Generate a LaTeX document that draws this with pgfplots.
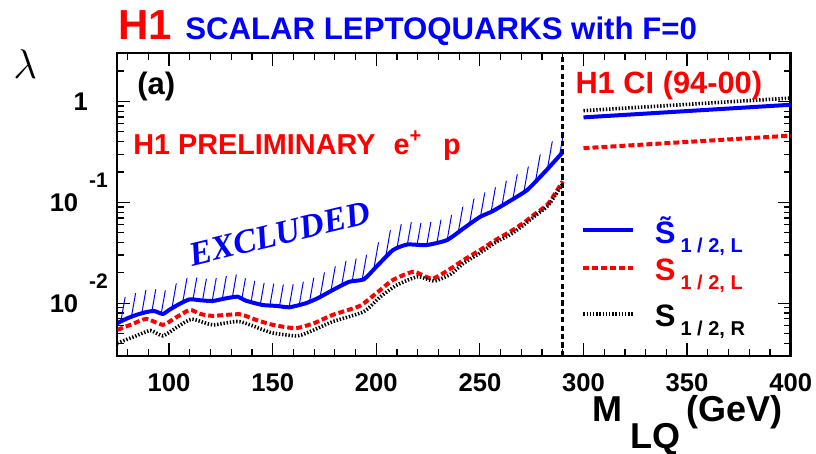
\documentclass[border=0pt]{standalone}
\usepackage{pgfplots}
\pgfplotsset{compat=1.18}
\usepackage{pgfplotstable}
\usepgfplotslibrary{fillbetween}
\usetikzlibrary{patterns.meta}
\usepackage{fontspec}
\setmainfont{Liberation Sans}
\newfontfamily\serifbi{Liberation Serif}

% S~_{1/2,L} (blue, solid)
\pgfplotstableread{
x y
75 0.00635
80 0.00711
85 0.00776
90 0.00826
93 0.00835
97 0.00783
100 0.00857
105 0.00984
110 0.01094
115 0.0107
121 0.01052
127 0.01114
133 0.01161
137 0.01061
145 0.00961
152 0.0094
158 0.00912
166 0.0100
172 0.01128
179 0.01352
187 0.01633
194 0.01726
200 0.02296
208 0.03357
215 0.0382
224 0.03767
234 0.04217
242 0.05495
250 0.07161
256 0.08147
265 0.1047
273 0.1334
282 0.207
290 0.314
}\blueLQ

% S_{1/2,L} (red, dashed)
\pgfplotstableread{
x y
75 0.00545
82 0.00618
89 0.0070
97 0.00611
103 0.00716
110 0.00859
115 0.00784
121 0.0075
134 0.00778
142 0.00684
150 0.00611
161 0.00566
170 0.00635
179 0.00767
192 0.0094
200 0.01256
208 0.01698
218 0.0205
227 0.0175
236 0.02213
242 0.02673
250 0.0336
258 0.04285
265 0.0517
271 0.0625
277 0.0778
283 0.0971
290 0.162
}\redLQ

% S_{1/2,R} (black, dotted)
\pgfplotstableread{
x y
75 0.00403
83 0.00465
91 0.00537
97 0.00475
104 0.00583
111 0.00695
121 0.00611
134 0.00658
149 0.00513
162 0.00475
170 0.00545
179 0.00658
194 0.00826
202 0.01161
210 0.01517
220 0.01832
228 0.0166
236 0.01945
242 0.02483
250 0.0314
258 0.04055
265 0.0483
271 0.0593
277 0.0745
283 0.0933
290 0.153
}\blackLQ

\begin{document}
\begin{tikzpicture}
\begin{axis}[
  at={(0pt,0pt)}, anchor=south west,
  scale only axis, width=336.7pt, height=151.35pt,
  xmin=75, xmax=400, ymode=log, ymin=0.003, ymax=3,
  xtick={100,150,...,400},
  minor xtick={80,90,...,390},
  ytick={0.01,0.1},
  yticklabels={
    {10\hspace{5.5pt}\smash{\raisebox{11.7pt}{\fontsize{10.5}{10.5}\selectfont -2}}},
    {10\hspace{5.5pt}\smash{\raisebox{11.7pt}{\fontsize{10.5}{10.5}\selectfont -1}}}},
  extra y ticks={1},
  extra y tick labels={1},
  extra y tick style={yticklabel style={xshift=-10pt}},
  minor ytick={0.004,0.005,0.006,0.007,0.008,0.009,0.02,0.03,0.04,0.05,0.06,0.07,0.08,0.09,0.2,0.3,0.4,0.5,0.6,0.7,0.8,0.9,2},
  /pgf/number format/assume math mode=true,
  tick label style={font=\bfseries\fontsize{12.8}{13}\selectfont},
  xticklabel style={anchor=north, inner sep=0pt, yshift=-8.5pt},
  yticklabel style={anchor=east, inner sep=0pt, xshift=-4.5pt},
  axis line style={line width=1.2pt},
  tick style={line width=0.6pt, black},
  major tick length=6.5pt, minor tick length=3.25pt,
  tick align=inside,
]
\addplot[draw=none, forget plot, smooth, tension=0.35, name path=upper] table[x=x, y expr=\thisrow{y}*1.66] {\blueLQ};
\addplot[blue, line width=2pt, smooth, tension=0.35, name path=lower] table[x=x, y=y] {\blueLQ};
\addplot[red, line width=2pt, smooth, tension=0.35, dash pattern=on 3pt off 1.5pt] table[x=x, y=y] {\redLQ};
\addplot[black, line width=1.8pt, smooth, tension=0.35, dash pattern=on 0.7pt off 0.9pt] table[x=x, y=y] {\blackLQ};
\addplot[pattern={Lines[angle=80, distance=4.8pt, line width=0.5pt]}, pattern color=blue, draw=none, forget plot] fill between[of=lower and upper];
% H1 CI (94-00) limits
\addplot[forget plot, blue, line width=2pt] coordinates {(300,0.695) (400,0.927)};
\addplot[forget plot, red, line width=2pt, dash pattern=on 3pt off 1.5pt] coordinates {(300,0.344) (400,0.458)};
\addplot[forget plot, black, line width=1.8pt, dash pattern=on 0.7pt off 0.9pt] coordinates {(300,0.81) (400,1.08)};
% boundary of direct search
\addplot[forget plot, black, line width=1.6pt, dash pattern=on 2.6pt off 1.6pt] coordinates {(290,0.003) (290,3)};
% legend keys
\addplot[forget plot, blue, line width=2pt] coordinates {(300,0.0529) (323.7,0.0529)};
\addplot[forget plot, red, line width=2pt, dash pattern=on 3pt off 1.5pt] coordinates {(300,0.02216) (323.7,0.02216)};
\addplot[forget plot, black, line width=1.8pt, dash pattern=on 0.7pt off 0.9pt] coordinates {(300,0.00779) (323.7,0.00779)};
\end{axis}
% legend texts
\node[anchor=base west, inner sep=0pt, text=blue, font=\bfseries] at (268.6pt,56pt) {\fontsize{15.5}{15.5}\selectfont S̃\hspace{2.5pt}\raisebox{-4.5pt}{\fontsize{10}{10}\selectfont 1 / 2, L}};
\node[anchor=base west, inner sep=0pt, text=red, font=\bfseries] at (268.6pt,37.65pt) {\fontsize{15.5}{15.5}\selectfont S\hspace{2.5pt}\raisebox{-4.5pt}{\fontsize{10}{10}\selectfont 1 / 2, L}};
\node[anchor=base west, inner sep=0pt, text=black, font=\bfseries] at (268.6pt,14.65pt) {\fontsize{15.5}{15.5}\selectfont S\hspace{2.5pt}\raisebox{-4.5pt}{\fontsize{10}{10}\selectfont 1 / 2, R}};
% titles and annotations
\node[anchor=base west, inner sep=0pt, text=red, font=\bfseries\fontsize{21}{21}\selectfont] at (0.3pt,158.4pt) {H1};
\node[anchor=base west, inner sep=0pt, text=blue, font=\bfseries\fontsize{15.6}{15.6}\selectfont] at (33.8pt,158.4pt) {SCALAR LEPTOQUARKS with F=0};
\node[inner sep=0pt] at (-46pt,146pt) {\fontsize{20}{20}\selectfont$\lambda$};
\node[anchor=base west, inner sep=0pt, font=\bfseries\fontsize{15.5}{15.5}\selectfont] at (9.8pt,130.5pt) {(a)};
\node[anchor=base west, inner sep=0pt, text=red, font=\bfseries\fontsize{14.4}{14.4}\selectfont] at (7.85pt,100.5pt) {H1 PRELIMINARY\hspace{9pt}e\raisebox{6pt}{\fontsize{10}{10}\selectfont +}\hspace{11pt}p};
\node[anchor=base west, inner sep=0pt, text=red, font=\bfseries\fontsize{15.4}{15.4}\selectfont] at (228.9pt,131pt) {H1 CI (94-00)};
\node[rotate=13.5, inner sep=0pt, text=blue, font=\serifbi\bfseries\itshape\fontsize{17}{17}\selectfont] at (81.3pt,61.1pt) {EXCLUDED};
\node[anchor=base west, inner sep=0pt, font=\bfseries\fontsize{18}{18}\selectfont] at (237.5pt,-32.85pt) {M\hspace{4pt}\raisebox{-13.2pt}{LQ}\hspace{3pt}(GeV)};
\pgfresetboundingbox
\path[use as bounding box] (-58.65pt,-49pt) rectangle (349.35pt,178pt);
\end{tikzpicture}
\end{document}
